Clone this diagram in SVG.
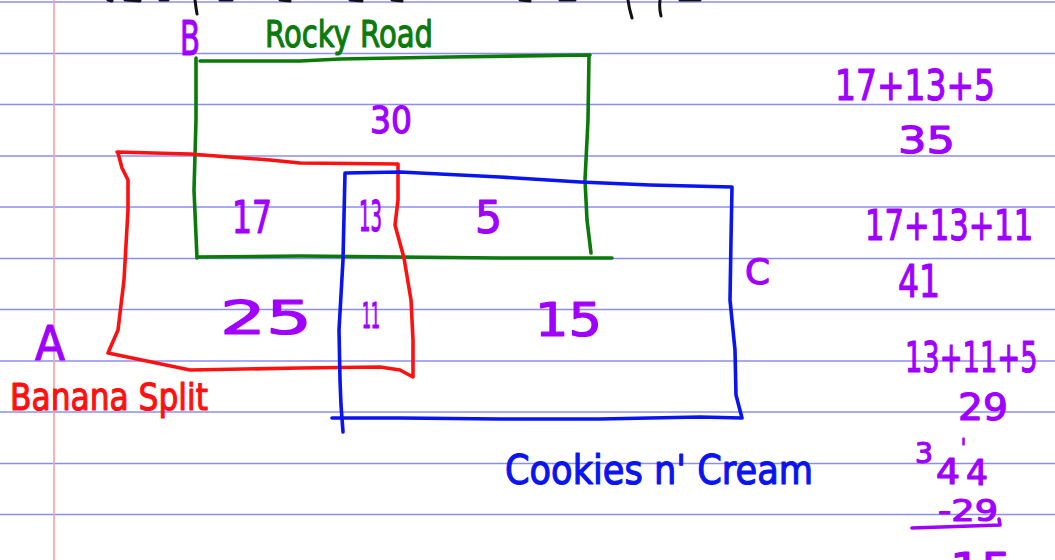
<svg xmlns="http://www.w3.org/2000/svg" width="1055" height="560" viewBox="0 0 1055 560">
<style>
.rule{stroke:#8c8cf4;stroke-width:1.6}
.margin{stroke:#f3a3a3;stroke-width:1.6}
.pen{fill:none;stroke-width:3.6;stroke-linejoin:round;stroke-linecap:round}
.ink{stroke:#111;fill:none;stroke-width:3;stroke-linecap:round}
text{font-family:"DejaVu Sans","Liberation Sans",sans-serif;stroke-width:1.2;stroke-linejoin:round}
.pu{fill:#a000ff;stroke:#a000ff}
.gr{fill:#0a7a0a;stroke:#0a7a0a}
.rd{fill:#ff1010;stroke:#ff1010}
.bl{fill:#0a14f0;stroke:#0a14f0}
</style>
<rect width="1055" height="560" fill="#fff"/>
<g id="paper">
<line class="rule" x1="0" y1="2" x2="1055" y2="2"/>
<line class="rule" x1="0" y1="53.5" x2="1055" y2="53.5"/>
<line class="rule" x1="0" y1="104.5" x2="1055" y2="104.5"/>
<line class="rule" x1="0" y1="156" x2="1055" y2="156"/>
<line class="rule" x1="0" y1="207" x2="1055" y2="207"/>
<line class="rule" x1="0" y1="258.5" x2="1055" y2="258.5"/>
<line class="rule" x1="0" y1="309.5" x2="1055" y2="309.5"/>
<line class="rule" x1="0" y1="361" x2="1055" y2="361"/>
<line class="rule" x1="0" y1="412" x2="1055" y2="412"/>
<line class="rule" x1="0" y1="463.5" x2="1055" y2="463.5"/>
<line class="rule" x1="0" y1="514.5" x2="1055" y2="514.5"/>
<line class="margin" x1="54" y1="0" x2="54" y2="560"/>
</g>
<g id="top-ink">
<path class="ink" d="M108 0 L112 1 M125 0 L140 1 M160 0 L168 0 M195 0 Q196 8 197 14 M220 0 L232 0 M280 0 L290 1 M350 0 L362 1 M392 0 L402 1 M520 0 L530 1 M560 0 L575 0 M628 0 Q629 8 632 18 M660 0 Q659 8 661 16 M680 0 L700 0"/>
</g>
<g id="set-B-rocky-road">
<path class="pen" stroke="#0a7a0a" d="M196 58 L196 120 L194 190 L197 258 M200 61 L300 61 L340 59 L450 57 L590 55 M589 56 L588 120 L585 180 L587 220 L591 253 M197 257 L300 256 L400 257 L500 258 L612 258"/>
</g>
<g id="set-A-banana-split">
<path class="pen" stroke="#ff1010" d="M117 152 L190 154 L270 160 L300 163 L398 164 L398 200 L395 225 L404 258 L411 300 L413 340 L413 377 L400 370 L380 367 L300 368 L190 370 L108 353 L118 330 L124 280 L128 210 L128 180 L122 168 L118 153"/>
</g>
<g id="set-C-cookies-n-cream">
<path class="pen" stroke="#0a14f0" d="M345 173 L400 172 L500 177 L580 182 L650 185 L732 187 L731 240 L730 300 L735 350 L736 395 L742 418 L700 417 L600 419 L500 419 L400 418 L332 418 M345 173 L343 260 L339 330 L340 380 L341 405 L343 432"/>
</g>
<g id="labels">
<text class="pu" x="180" y="55" font-size="48" textLength="20" lengthAdjust="spacingAndGlyphs">B</text>
<text class="gr" x="265" y="47" font-size="38" textLength="168" lengthAdjust="spacingAndGlyphs">Rocky Road</text>
<text class="pu" x="35" y="360" font-size="48" textLength="30" lengthAdjust="spacingAndGlyphs">A</text>
<text class="rd" x="10" y="410" font-size="38" textLength="198" lengthAdjust="spacingAndGlyphs">Banana Split</text>
<text class="pu" x="745" y="284" font-size="36" textLength="25" lengthAdjust="spacingAndGlyphs">C</text>
<text class="bl" x="505" y="484" font-size="40" textLength="308" lengthAdjust="spacingAndGlyphs">Cookies n' Cream</text>
<text class="pu" x="370" y="133" font-size="38" textLength="42" lengthAdjust="spacingAndGlyphs">30</text>
<text class="pu" x="232" y="233" font-size="44" textLength="40" lengthAdjust="spacingAndGlyphs">17</text>
<text class="pu" x="359" y="231" font-size="42" textLength="23" lengthAdjust="spacingAndGlyphs">13</text>
<text class="pu" x="475" y="233" font-size="44" textLength="27" lengthAdjust="spacingAndGlyphs">5</text>
<text class="pu" x="220" y="334" font-size="46" textLength="92" lengthAdjust="spacingAndGlyphs">25</text>
<text class="pu" x="362" y="328" font-size="36" textLength="18" lengthAdjust="spacingAndGlyphs">11</text>
<text class="pu" x="535" y="336" font-size="46" textLength="67" lengthAdjust="spacingAndGlyphs">15</text>
</g>
<g id="work">
<text class="pu" x="835" y="100" font-size="42" textLength="160" lengthAdjust="spacingAndGlyphs">17+13+5</text>
<text class="pu" x="898" y="153" font-size="38" textLength="57" lengthAdjust="spacingAndGlyphs">35</text>
<text class="pu" transform="translate(865,240) scale(0.73,1)" x="0" y="0" font-size="42">17+13+11</text>
<text class="pu" x="898" y="297" font-size="44" textLength="42" lengthAdjust="spacingAndGlyphs">41</text>
<text class="pu" transform="translate(905,372) scale(0.65,1)" x="0" y="0" font-size="42">13+11+5</text>
<text class="pu" x="958" y="420" font-size="38" textLength="50" lengthAdjust="spacingAndGlyphs">29</text>
<text class="pu" x="915" y="463" font-size="28" textLength="18" lengthAdjust="spacingAndGlyphs">3</text>
<text class="pu" x="936" y="484" font-size="36" textLength="24" lengthAdjust="spacingAndGlyphs">4</text>
<text class="pu" x="961" y="456" font-size="24" textLength="5" lengthAdjust="spacingAndGlyphs">'</text>
<text class="pu" x="966" y="485" font-size="36" textLength="22" lengthAdjust="spacingAndGlyphs">4</text>
<text class="pu" x="938" y="521" font-size="30" textLength="60" lengthAdjust="spacingAndGlyphs">-29</text>
<path class="pen" stroke="#a000ff" d="M912 528 L1000 525 L999 519"/>
<text class="pu" x="950" y="583" font-size="42" textLength="62" lengthAdjust="spacingAndGlyphs">15</text>
</g>
</svg>
